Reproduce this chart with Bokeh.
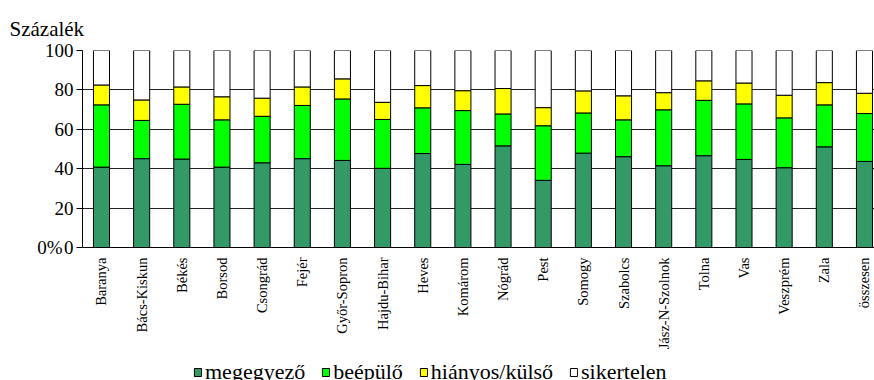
import math
from bokeh.plotting import figure
from bokeh.layouts import column
from bokeh.models import (Range1d, FixedTicker, Legend, LegendItem, Title,
                          LinearAxis)
from bokeh.embed import file_html
from bokeh.resources import INLINE

# Counties and the share (%) of each outcome
counties = ["Baranya", "Bács-Kiskun", "Békés", "Borsod", "Csongrád", "Fejér",
            "Győr-Sopron", "Hajdu-Bihar", "Heves", "Komárom", "Nógrád", "Pest",
            "Somogy", "Szabolcs", "Jász-N-Szolnok", "Tolna", "Vas", "Veszprém",
            "Zala", "összesen"]
megegyezo = [40.8, 45.1, 44.9, 40.8, 43.0, 45.1, 44.2, 40.2, 47.7, 42.2,
             51.6, 34.1, 47.9, 46.1, 41.5, 46.6, 44.7, 40.5, 51.1, 43.7]
beepulo = [31.6, 19.4, 27.8, 24.0, 23.6, 27.0, 31.2, 24.8, 23.2, 27.3,
           16.2, 27.7, 20.4, 18.7, 28.4, 28.1, 28.2, 25.3, 21.3, 24.3]
hianyos = [10.1, 10.4, 8.8, 11.7, 9.2, 9.4, 10.2, 8.7, 11.3, 10.1,
           12.9, 9.2, 11.2, 12.2, 8.7, 9.9, 10.6, 11.5, 11.3, 10.3]
sikertelen = [round(100 - a - b - c, 1) for a, b, c in zip(megegyezo, beepulo, hianyos)]

y_ticks = [0, 20, 40, 60, 80, 100]
series = ["megegyező", "beépülő", "hiányos/külső", "sikertelen"]
colors = ["#339966", "#00FF00", "#FFFF00", "#FFFFFF"]
stack_keys = ["s0", "s1", "s2", "s3"]

SERIF = "Liberation Serif"

x = list(range(len(counties)))
data = dict(x=x, s0=megegyezo, s1=beepulo, s2=hianyos, s3=sikertelen)

# main chart: fixed 792 x 197 px plotting area
p = figure(frame_width=792, frame_height=197, output_backend="svg",
           toolbar_location=None,
           x_range=Range1d(-0.473, 19.25), y_range=Range1d(0, 100),
           min_border_left=82, min_border_right=0, min_border_top=50,
           min_border_bottom=113)
p.outline_line_color = None
p.background_fill_color = "white"
p.border_fill_color = "white"

# horizontal grid only
p.xgrid.grid_line_color = None
p.ygrid.grid_line_color = "#222222"
p.ygrid.grid_line_width = 1
p.ygrid.ticker = FixedTicker(ticks=y_ticks)

p.vbar_stack(stack_keys, x="x", width=0.4, source=data, fill_color=colors,
             line_color="black", line_width=1)

# y axis
yax = p.yaxis[0]
yax.ticker = FixedTicker(ticks=y_ticks)
yax.major_label_overrides = {t: str(t) for t in y_ticks}
yax.major_label_text_font = SERIF
yax.major_label_text_font_size = "19px"
yax.major_label_text_color = "black"
yax.major_label_standoff = 3
yax.major_tick_out = 6
yax.major_tick_in = 0
yax.minor_tick_line_color = None
yax.axis_line_color = "black"
yax.major_tick_line_color = "black"

# outer percent marker at the base of the value axis
pct = LinearAxis(ticker=FixedTicker(ticks=[0]),
                 major_label_overrides={0: "0%"},
                 major_label_text_font=SERIF, major_label_text_font_size="19px",
                 major_label_text_color="black", major_label_standoff=-21,
                 major_tick_out=0, major_tick_in=0,
                 major_tick_line_color=None, minor_tick_line_color=None,
                 axis_line_color=None)
p.add_layout(pct, "left")

# x axis with county names reading upwards
xax = p.xaxis[0]
xax.ticker = FixedTicker(ticks=x)
xax.major_label_overrides = {i: n for i, n in enumerate(counties)}
xax.major_label_orientation = math.pi / 2
xax.major_label_text_font = SERIF
xax.major_label_text_font_size = "14.5px"
xax.major_label_text_color = "black"
xax.major_label_standoff = 10
xax.major_tick_out = 0
xax.major_tick_in = 0
xax.minor_tick_line_color = None
xax.axis_line_color = "black"

# y-axis caption
p.add_layout(Title(text="Százalék", align="left", offset=-73,
                   text_font=SERIF, text_font_size="21px",
                   text_font_style="normal", text_color="black",
                   standoff=20), "above")

# legend strip underneath the chart; its swatch renderers hold a single
# NaN row so only the legend glyphs are drawn
nan = float("nan")
leg = figure(width=874, height=20, output_backend="svg", toolbar_location=None,
             x_range=Range1d(0, 1), y_range=Range1d(0, 1),
             x_axis_location=None, y_axis_location=None, min_border=0)
leg.outline_line_color = None
leg.xgrid.visible = False
leg.ygrid.visible = False
swatches = leg.vbar_stack(stack_keys, x="x", width=0.4,
                          source={k: [nan] for k in ["x"] + stack_keys},
                          fill_color=colors, line_color="black", line_width=1)
legend = Legend(items=[LegendItem(label=s, renderers=[r])
                       for s, r in zip(series, swatches)],
                orientation="horizontal", location=(111, -5),
                glyph_width=9, glyph_height=10, label_standoff=3, spacing=16,
                padding=0, margin=0, border_line_color=None,
                background_fill_alpha=0, label_text_font=SERIF,
                label_text_font_size="22px", label_text_color="black")
leg.add_layout(legend, "center")

open("out.html", "w").write(file_html(column(p, leg, spacing=0), INLINE))
